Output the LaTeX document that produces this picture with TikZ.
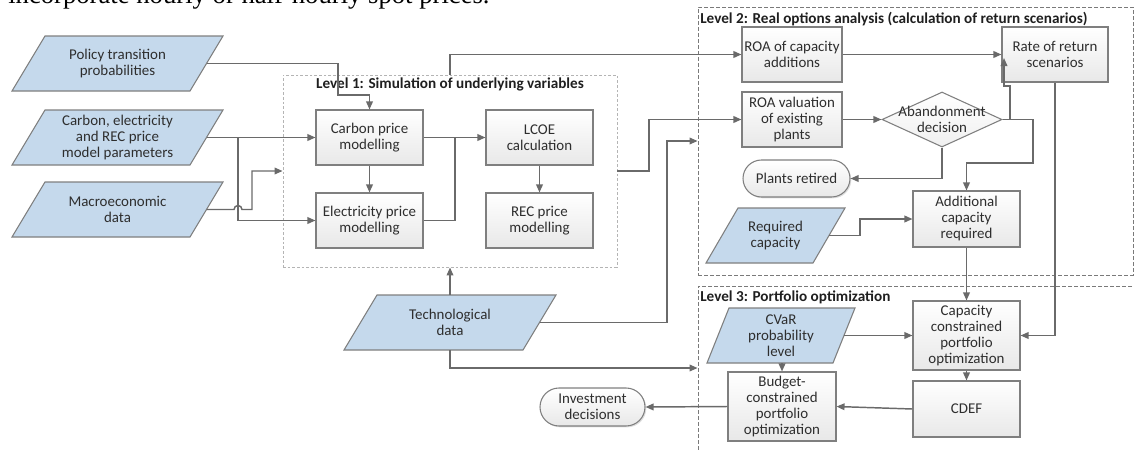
\documentclass[tikz,border=0pt]{standalone}
\usepackage{fontspec}
\setmainfont{Carlito}
\newfontfamily\serifpaper{Liberation Serif}
\usetikzlibrary{arrows.meta,shapes.geometric,shapes.misc,shadows,calc}
\newdimen\px \px=0.75pt
\definecolor{linec}{HTML}{6A6A6A}
\definecolor{bordc}{HTML}{7F7F7F}
\definecolor{parafill}{HTML}{C5D9EC}
\definecolor{txtc}{HTML}{2E2E2E}
\definecolor{lvlone}{HTML}{B4B4B4}
\definecolor{lvltwo}{HTML}{7A7A7A}
\tikzset{
  base/.style={font=\fontsize{11.2}{12}\selectfont, text=txtc, align=center, inner sep=0pt},
  box/.style={base, draw=bordc, line width=0.8pt, top color=white, bottom color=black!9,
    minimum width=107\px, minimum height=55\px,
    drop shadow={shadow xshift=1pt, shadow yshift=-1pt, opacity=0.25}},
  pill/.style={box, rounded rectangle, minimum height=37\px},
  dec/.style={base, diamond, draw=bordc, line width=0.8pt, top color=white, bottom color=black!6,
    minimum width=120\px, minimum height=55\px, aspect=2.18},
  parashape/.style={fill=parafill, draw=bordc, line width=0.8pt},
  paratext/.style={base},
  lvlA/.style={draw=lvlone, dash pattern=on 2pt off 1.5pt, line width=0.7pt, inner sep=0pt},
  lvlB/.style={draw=lvltwo, dash pattern=on 3pt off 1.5pt, line width=0.7pt, inner sep=0pt},
  title/.style={font=\bfseries\fontsize{11.4}{12}\selectfont, text=black!88, inner sep=0pt},
  conn/.style={draw=linec, line width=1.1pt},
  arr/.style={conn, -{Triangle[length=6pt,width=5pt]}},
}
% name, cx, cy, w, h, offset, text
\newcommand\para[7]{%
  \path[parashape] (#2-#4/2+#6, #3-#5/2) -- (#2+#4/2, #3-#5/2) -- (#2+#4/2-#6, #3+#5/2) -- (#2-#4/2, #3+#5/2) -- cycle;
  \node[paratext, minimum width=#4\px, minimum height=#5\px] (#1) at (#2,#3) {#7};
  \coordinate (#1r) at (#2+#4/2-#6/2, #3);
}
\begin{document}
\begin{tikzpicture}[x=0.75pt, y=-0.75pt]
\useasboundingbox (0,0) rectangle (1134,450);
\clip (0,0) rectangle (1134,450);

\node[anchor=base west, font=\serifpaper\fontsize{20}{24}\selectfont, inner sep=0pt] (paper) at (8,3.5) {incorporate hourly or half-hourly spot prices.};

% containers
\node[lvlA, minimum width=334\px, minimum height=192\px] (lvl1) at (450,171) {};
\node[lvlB, minimum width=435\px, minimum height=268\px] (lvl2) at (915.5,141) {};
\node[lvlB, minimum width=452\px, minimum height=184\px] (lvl3) at (924,378) {};
\node[title] (t1) at (450,84) {Level 1: Simulation of underlying variables};
\node[title, anchor=west] (t2) at (700,19) {Level 2: Real options analysis (calculation of return scenarios)};
\node[title, anchor=west] (t3) at (700,297) {Level 3: Portfolio optimization};

% inputs
\para{policy}{117.5}{63.5}{211}{55}{33}{Policy transition\\probabilities}
\para{params}{117.5}{137.5}{211}{55}{33}{Carbon, electricity\\and REC price\\model parameters}
\para{macro}{117.5}{209.5}{211}{55}{33}{Macroeconomic\\data}
\para{tech}{450}{322.5}{212}{55}{33}{Technological\\data}
\para{req}{775.5}{235.5}{139}{55}{32}{Required\\capacity}
\para{cvar}{781}{335.5}{148}{55}{22}{CVaR\\probability\\level}

% level 1
\node[box] (carbon) at (369.5,137.5) {Carbon price\\modelling};
\node[box] (elec) at (369.5,220.5) {Electricity price\\modelling};
\node[box] (lcoe) at (539.5,137.5) {LCOE\\calculation};
\node[box] (rec) at (539.5,220.5) {REC price\\modelling};

% level 2
\node[box, minimum width=100\px] (roacap) at (792,54.5) {ROA of capacity\\additions};
\node[box, minimum width=106\px] (rate) at (1055,54.5) {Rate of return\\scenarios};
\node[box, minimum width=100\px] (roaval) at (792,119.5) {ROA valuation\\of existing\\plants};
\node[dec, label={[base]center:Abandonment\\decision}] (ab) at (942,119.5) {};
\node[pill] (plants) at (796.5,178.5) {Plants retired};
\node[box, minimum height=56\px] (addl) at (966.5,219) {Additional\\capacity\\required};

% level 3
\node[box, minimum height=69\px] (capcon) at (966.5,335.5) {Capacity\\constrained\\portfolio\\optimization};
\node[box, minimum height=56\px] (cdef) at (966.5,409) {CDEF};
\node[box, minimum width=108\px, minimum height=69\px] (budget) at (782,406.5) {Budget-\\constrained\\portfolio\\optimization};
\node[pill, minimum width=105\px, minimum height=38\px] (invest) at (592.5,407) {Investment\\decisions};

% helper coordinates
\coordinate (split1) at (238,137.5);
\coordinate (merge1) at (455,137.5);

% connectors
\draw[arr] (policyr) -- (338,63.5) -- (338,95) -| (carbon.north);
\draw[arr] (paramsr) -- (carbon.west);
\draw[arr] (split1) |- (elec.west);
\draw[arr] (macror) -- (234,209.5) arc[start angle=180, end angle=360, radius=4] -- (252,209.5) |- (lvl1.west);
\draw[arr] (carbon.south) -- (elec.north);
\draw[arr] (carbon.east) -- (lcoe.west);
\draw[conn] (elec.east) -| (merge1);
\draw[arr] (lcoe.south) -- (rec.north);
\draw[arr] (lvl1.north) |- (roacap.west);
\draw[arr] (lvl1.east) -- (649,171) |- (roaval.west);
\draw[arr] (tech.north) -- (lvl1.south);
\draw[arr] (techr) -- (667,322.5) |- (lvl2.west);
\draw[arr] (tech.south) |- ($(lvl3.west)+(0,-10)$);
\draw[arr] (roacap.east) -- (rate.west);
\draw[arr] (roaval.east) -- (ab.west);
\draw[arr] (ab.east) -- (1010,119.5) -- (1010,86) -- (1004,86) -- (1004,58);
\draw[arr] (ab.east) -- (1033,119.5) -- (1033,163) -| (addl.north);
\draw[arr] (ab.south) |- (plants.east);
\draw[arr] (reqr) -- (860,235.5) |- (addl.west);
\draw[arr] (addl.south) -- (capcon.north);
\draw[arr] (rate.south) |- (capcon.east);
\draw[arr] (cvarr) -- (capcon.west);
\draw[arr] (budget.north |- cvar.south) -- (budget.north);
\draw[arr] (capcon.south) -- (cdef.north);
\draw[arr] (cdef.west) -- (budget.east);
\draw[arr] (budget.west) -- (invest.east);
\end{tikzpicture}
\end{document}
